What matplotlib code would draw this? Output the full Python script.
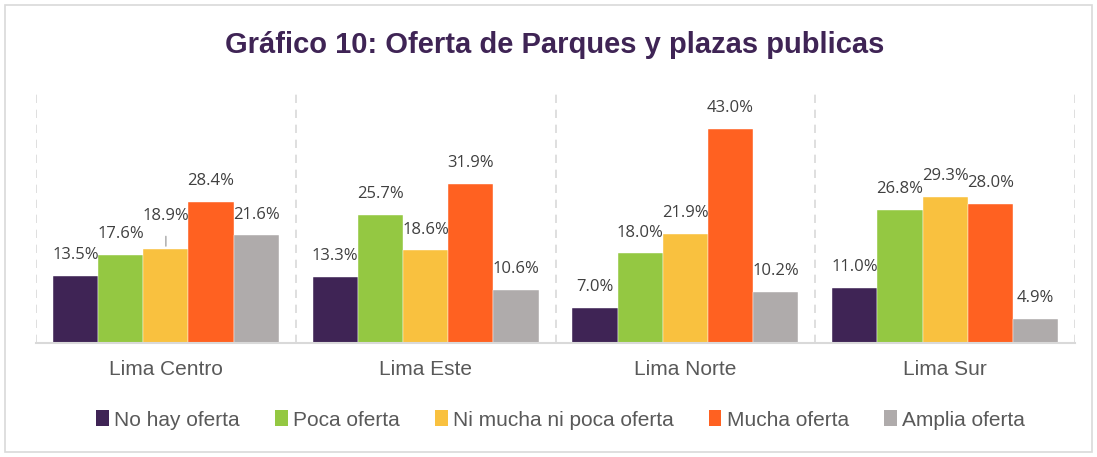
import numpy as np
import matplotlib
matplotlib.use("Agg")
import matplotlib.pyplot as plt
from matplotlib.patches import Patch, Rectangle

# data
zonas = ["Lima Centro", "Lima Este", "Lima Norte", "Lima Sur"]
series = ["No hay oferta", "Poca oferta", "Ni mucha ni poca oferta",
          "Mucha oferta", "Amplia oferta"]
no_hay = [13.5, 13.3, 7.0, 11.0]
poca = [17.6, 25.7, 18.0, 26.8]
ni_mucha = [18.9, 18.6, 21.9, 29.3]
mucha = [28.4, 31.9, 43.0, 28.0]
amplia = [21.6, 10.6, 10.2, 4.9]
valores = [no_hay, poca, ni_mucha, mucha, amplia]
colores = ["#3F2455", "#94C842", "#F9C13F", "#FF6121", "#AFABAB"]

fig = plt.figure(figsize=(10.97, 4.57), dpi=100)
ax = fig.add_axes([0.0328, 0.2495, 0.9472, 0.5492])

x = np.arange(len(zonas))
w = 0.174
for i, (vals, col) in enumerate(zip(valores, colores)):
    pos = x + (i - 2) * w
    ax.bar(pos, vals, width=w, color=col, edgecolor="white", linewidth=0.3)
    for xp, v in zip(pos, vals):
        dy = 15
        # the 18.9% label in Lima Centro sits higher with a leader line
        if i == 2 and xp < 0.5:
            dy = 24
            ax.annotate("", xy=(xp, v), xytext=(0, 11), textcoords="offset points",
                        arrowprops=dict(arrowstyle="-", color="#A6A6A6", lw=1))
        ax.annotate(f"{v:.1f}%", xy=(xp, v), xytext=(0, dy),
                    textcoords="offset points", ha="center", va="center",
                    fontsize=12, color="#404040", family="Open Sans")

ax.set_xlim(-0.5, len(zonas) - 0.5)
ax.set_ylim(0, 50.4)
ax.set_yticks([])
ax.set_xticks(x)
ax.set_xticklabels(zonas, fontsize=15, color="#595959", family="Liberation Sans")
ax.tick_params(axis="x", length=0, pad=12)
for s in ["left", "right", "top"]:
    ax.spines[s].set_visible(False)
ax.spines["bottom"].set_color("#D9D9D9")
ax.spines["bottom"].set_linewidth(1.5)

# dashed separators between zones
for xs in np.arange(len(zonas) + 1) - 0.5:
    ax.axvline(xs, color="#D9D9D9", linestyle=(0, (5, 4)), linewidth=1.2)

fig.text(0.506, 0.902, "Gráfico 10: Oferta de Parques y plazas publicas",
         ha="center", va="center", fontsize=21, fontweight="bold",
         color="#3F2455", family="Liberation Sans")

handles = [Patch(facecolor=c, edgecolor="none") for c in colores]
fig.legend(handles, series, loc="center", bbox_to_anchor=(0.511, 0.081),
           ncol=5, frameon=False, handlelength=0.6, handleheight=0.8,
           handletextpad=0.25, columnspacing=1.7,
           prop={"family": "Liberation Sans", "size": 15},
           labelcolor="#595959")

fig.patches.append(Rectangle((0.005, 0.01), 0.99, 0.978, transform=fig.transFigure,
                             fill=False, edgecolor="#D9D9D9", linewidth=1.2))

fig.savefig("out.png", dpi=100)
